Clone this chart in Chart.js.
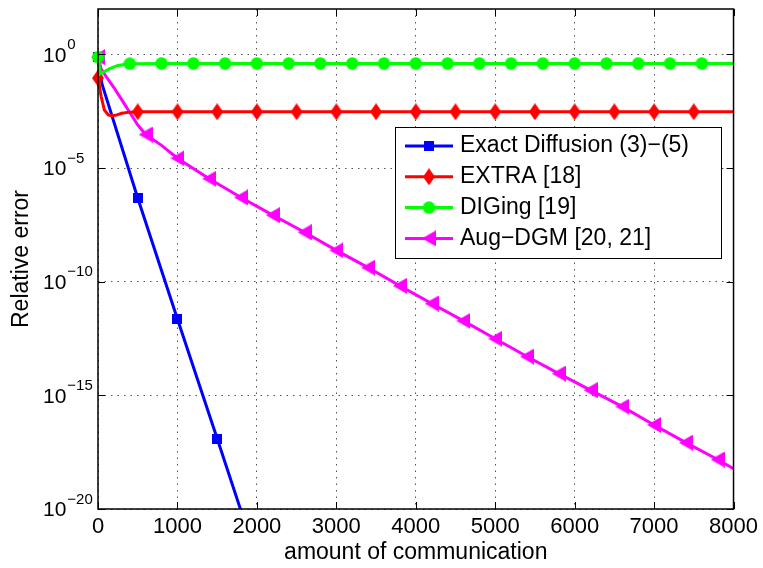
<!DOCTYPE html>
<html>
<head>
<meta charset="utf-8">
<script src="https://cdn.jsdelivr.net/npm/chart.js@4.4.0/dist/chart.umd.min.js"></script>
<style>
  html, body { margin: 0; padding: 0; background: #fff; }
  #wrap { width: 763px; height: 568px; }
</style>
</head>
<body>
<div id="wrap"><canvas id="errChart" width="763" height="568"></canvas></div>
<script>
// x: amount of communication, y: relative error
const xTicks = [0, 1000, 2000, 3000, 4000, 5000, 6000, 7000, 8000];
const yTickPowers = [0, -5, -10, -15, -20];
const seriesNames = ['Exact Diffusion (3)\u2212(5)', 'EXTRA [18]', 'DIGing [19]', 'Aug\u2212DGM [20, 21]'];

// Exact Diffusion
const exactIter = [0, 50, 500, 1000, 1500, 2000];
const exactErr = [0.76, 5.0e-2, 4.8e-7, 2.3e-12, 1.26e-17, 6.3e-23];
const exactMarks = [0, 500, 1000, 1500];

// EXTRA
const extraIter = [0, 40, 80, 130, 170, 220, 300, 400, 500, 1000, 1500, 2000, 2500, 3000, 3500, 4000,
  4500, 5000, 5500, 6000, 6500, 7000, 7500, 8000];
const extraErr = [0.091, 0.014, 3.6e-3, 2.2e-3, 2.0e-3, 2.1e-3, 2.6e-3, 2.9e-3, 3.0e-3, 3.0e-3, 3.0e-3,
  3.0e-3, 3.0e-3, 3.0e-3, 3.0e-3, 3.0e-3, 3.0e-3, 3.0e-3, 3.0e-3, 3.0e-3, 3.0e-3, 3.0e-3, 3.0e-3, 3.0e-3];
const extraMarks = [0, 500, 1000, 1500, 2000, 2500, 3000, 3500, 4000, 4500, 5000, 5500, 6000, 6500, 7000, 7500];

// DIGing
const digIter = [0, 30, 60, 140, 250, 400, 800, 1200, 1600, 2000, 2400, 2800, 3200, 3600, 4000, 4400,
  4800, 5200, 5600, 6000, 6400, 6800, 7200, 7600, 8000];
const digErr = [0.76, 0.14, 0.16, 0.23, 0.33, 0.39, 0.40, 0.40, 0.40, 0.40, 0.40, 0.40, 0.40, 0.40, 0.40,
  0.40, 0.40, 0.40, 0.40, 0.40, 0.40, 0.40, 0.40, 0.40, 0.40];
const digMarks = [0, 400, 800, 1200, 1600, 2000, 2400, 2800, 3200, 3600, 4000, 4400, 4800, 5200, 5600,
  6000, 6400, 6800, 7200, 7600];

// Aug-DGM
const augIter = [0, 40, 100, 200, 300, 400, 500, 600, 800, 1000, 1400, 1800, 2200, 2600, 3000, 3400,
  3800, 4200, 4600, 5000, 5400, 5800, 6200, 6600, 7000, 7400, 7800, 8000];
const augErr = [0.76, 0.23, 0.11, 3.5e-2, 1.0e-2, 2.8e-3, 7.9e-4, 3.0e-4, 1.0e-4, 2.7e-5, 3.4e-6, 5.1e-7,
  8.5e-8, 1.5e-8, 2.4e-9, 4.2e-10, 6.6e-11, 1.1e-11, 1.9e-12, 3.1e-13, 5.1e-14, 9.1e-15, 1.7e-15,
  3.2e-16, 5.0e-17, 8.3e-18, 1.5e-18, 5.9e-19];
const augMarks = [0, 600, 1000, 1400, 1800, 2200, 2600, 3000, 3400, 3800, 4200, 4600, 5000, 5400, 5800,
  6200, 6600, 7000, 7400, 7800];

const FONT = "'Liberation Sans', Arial, Helvetica, sans-serif";
const colors = ['#0000ff', '#ff0000', '#00ff00', '#ff00ff'];

// small canvases used as point styles
function marker(kind, color) {
  const c = document.createElement('canvas');
  const sizes = { square: [10, 10], diamond: [12, 17], circle: [13, 13], triangle: [14, 16] };
  c.width = sizes[kind][0];
  c.height = sizes[kind][1];
  const g = c.getContext('2d');
  g.fillStyle = color;
  g.beginPath();
  if (kind === 'square') {
    g.rect(0, 0, 10, 10);
  } else if (kind === 'diamond') {
    g.moveTo(6, 0); g.lineTo(12, 8.5); g.lineTo(6, 17); g.lineTo(0, 8.5);
  } else if (kind === 'circle') {
    g.arc(6.5, 6.5, 6.2, 0, Math.PI * 2);
  } else {
    g.moveTo(0, 8); g.lineTo(14, 0); g.lineTo(14, 16);
  }
  g.closePath();
  g.fill();
  return c;
}

const markers = [
  marker('square', colors[0]),
  marker('diamond', colors[1]),
  marker('circle', colors[2]),
  marker('triangle', colors[3])
];

function series(i, iter, err, marks, order) {
  return {
    label: seriesNames[i],
    data: iter.map((x, k) => ({ x: x, y: err[k] })),
    borderColor: colors[i],
    backgroundColor: colors[i],
    borderWidth: 3,
    pointStyle: markers[i],
    pointRadius: (ctx) => (ctx.raw && marks.includes(ctx.raw.x)) ? 6 : 0,
    pointHoverRadius: 0,
    tension: 0,
    order: order,
    clip: { left: 12, top: 0, right: 0, bottom: 0 }
  };
}

// axes box with inward tick marks
const framePlugin = {
  id: 'frame',
  afterDatasetsDraw(chart) {
    const { ctx, chartArea: a, scales: { x, y } } = chart;
    ctx.save();
    ctx.strokeStyle = '#000';
    ctx.lineWidth = 1.5;
    ctx.strokeRect(a.left, a.top, a.right - a.left, a.bottom - a.top);
    ctx.lineWidth = 1;
    ctx.beginPath();
    xTicks.forEach((v) => {
      const px = Math.round(x.getPixelForValue(v)) + 0.5;
      ctx.moveTo(px, a.bottom); ctx.lineTo(px, a.bottom - 7);
      ctx.moveTo(px, a.top); ctx.lineTo(px, a.top + 7);
    });
    yTickPowers.forEach((p) => {
      const py = Math.round(y.getPixelForValue(Math.pow(10, p))) + 0.5;
      ctx.moveTo(a.left, py); ctx.lineTo(a.left + 7, py);
      ctx.moveTo(a.right, py); ctx.lineTo(a.right - 7, py);
    });
    ctx.stroke();
    ctx.restore();
  },
  afterDraw(chart) {
    const { ctx, chartArea: a, scales: { y } } = chart;
    ctx.save();
    ctx.fillStyle = '#000';
    ctx.textAlign = 'left';
    ctx.textBaseline = 'middle';
    // y tick labels as 10 with a raised exponent
    yTickPowers.forEach((p) => {
      const py = y.getPixelForValue(Math.pow(10, p));
      ctx.font = '21px ' + FONT;
      const bx = a.left - 55;
      ctx.fillText('10', bx, py + 1.5);
      const w = ctx.measureText('10').width;
      ctx.font = '15px ' + FONT;
      ctx.fillText(p === 0 ? '0' : '\u2212' + Math.abs(p), bx + w + 1, py - 9.5);
    });

    // legend
    const lx = 395, ly = 127, lw = 326, lh = 131;
    ctx.fillStyle = '#fff';
    ctx.fillRect(lx, ly, lw, lh);
    ctx.strokeStyle = '#000';
    ctx.lineWidth = 1;
    ctx.strokeRect(lx + 0.5, ly + 0.5, lw, lh);
    ctx.font = '23px ' + FONT;
    seriesNames.forEach((name, i) => {
      const ry = ly + 19 + i * 30.8;
      ctx.strokeStyle = colors[i];
      ctx.lineWidth = 3;
      ctx.beginPath();
      ctx.moveTo(lx + 10, ry);
      ctx.lineTo(lx + 58, ry);
      ctx.stroke();
      const m = markers[i];
      ctx.drawImage(m, lx + 34 - m.width / 2, ry - m.height / 2);
      ctx.fillStyle = '#000';
      ctx.fillText(name, lx + 65, ry);
    });
    ctx.restore();
  }
};

const ctx = document.getElementById('errChart').getContext('2d');
new Chart(ctx, {
  type: 'line',
  data: {
    datasets: [
      series(0, exactIter, exactErr, exactMarks, 3),
      series(1, extraIter, extraErr, extraMarks, 1),
      series(2, digIter, digErr, digMarks, 0),
      series(3, augIter, augErr, augMarks, 2)
    ]
  },
  options: {
    responsive: false,
    animation: false,
    devicePixelRatio: 1,
    layout: { padding: { left: 0, right: 28, top: 7, bottom: 0 } },
    plugins: {
      legend: { display: false },
      tooltip: { enabled: false }
    },
    scales: {
      x: {
        type: 'linear',
        min: 0,
        max: 8000,
        afterBuildTicks: (s) => { s.ticks = xTicks.map((v) => ({ value: v })); },
        afterFit: (s) => { s.height = 59; },
        ticks: {
          callback: (v) => String(v),
          font: { family: FONT, size: 22 },
          color: '#000',
          padding: 5,
          maxRotation: 0,
          autoSkip: false
        },
        grid: { color: '#555', lineWidth: 1, drawTicks: false },
        border: { display: false, dash: [1.5, 5] },
        title: {
          display: true,
          text: 'amount of communication',
          font: { family: FONT, size: 23 },
          color: '#000',
          padding: { top: 0, bottom: 2 }
        }
      },
      y: {
        type: 'logarithmic',
        min: 1e-20,
        max: 1e2,
        afterBuildTicks: (s) => { s.ticks = yTickPowers.map((p) => ({ value: Math.pow(10, p) })); },
        afterFit: (s) => { s.width = 98; },
        ticks: { display: false },
        grid: { color: '#555', lineWidth: 1, drawTicks: false },
        border: { display: false, dash: [1.5, 5] },
        title: {
          display: true,
          text: 'Relative error',
          font: { family: FONT, size: 23 },
          color: '#000',
          padding: { top: 8, bottom: 0 }
        }
      }
    }
  },
  plugins: [framePlugin]
});
</script>
</body>
</html>
